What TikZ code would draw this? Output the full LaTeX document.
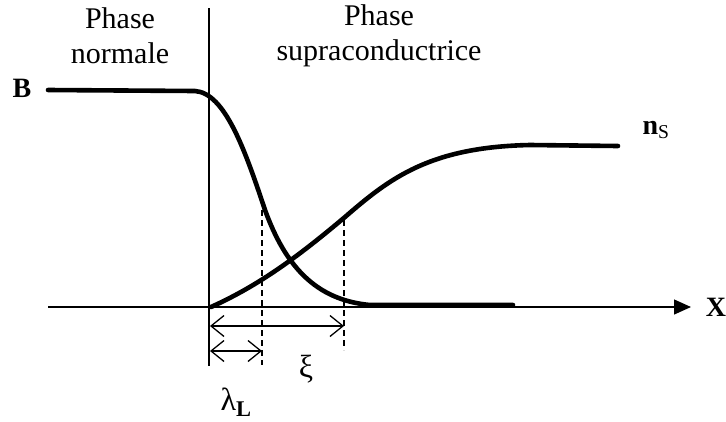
\documentclass[tikz,border=0pt]{standalone}
\usepackage{fontspec}
\setmainfont{Liberation Serif}
\usetikzlibrary{arrows.meta}

\begin{document}
\begin{tikzpicture}[x=1pt, y=-1pt,
      courbe/.style={line width=4.6pt, line join=round, line cap=round},
      axe/.style={line width=1.3pt, -{Triangle[length=17pt,width=15pt]}},
      tiret/.style={line width=1.3pt, dash pattern=on 6pt off 4pt},
      cote/.style={line width=1.3pt, {Straight Barb[length=13pt,width=21pt]}-{Straight Barb[length=13pt,width=21pt]}},
      titre/.style={font=\fontsize{30}{35}\selectfont, align=center, inner sep=0pt},
      lettre/.style={font=\fontsize{28}{30}\selectfont\bfseries, inner sep=0pt},
      grec/.style={font=\fontsize{32}{34}\selectfont, inner sep=0pt}]
    \useasboundingbox (0,0) rectangle (726,421);
    % axes
    \coordinate (xdeb) at (48,307);
    \coordinate (xfin) at (691,307);
    \coordinate (interhaut) at (209,8);
    \coordinate (interbas) at (209,366);
    \draw[axe] (xdeb) -- (xfin);
    \draw[line width=1.1pt] (interhaut) -- (interbas);
    \node[lettre] (lblX) at (716,307) {X};
    \node[lettre] (lblB) at (22,88) {B};
    \node[lettre] (lblns) at (656,130) {n\textsubscript{\mdseries S}};
    \node[titre] (normale) at (120,36) {Phase\\normale};
    \node[titre] (supra) at (379,36) {Phase\\supraconductrice};
    % courbes B et n_S
    \draw[courbe] (48,90) -- (195,91) .. controls (225,93) and (245,150) .. (265,210)
        .. controls (285,265) and (315,300) .. (370,305) -- (513,305);
    \draw[courbe] (211,307) .. controls (260,285) and (300,255) .. (345,217)
        .. controls (390,178) and (430,147) .. (530,145) -- (618,146);
    % longueurs caracteristiques
    \coordinate (lamhaut) at (262,200);
    \coordinate (lambas) at (262,365);
    \coordinate (xihaut) at (344,220);
    \coordinate (xibas) at (344,350);
    \draw[tiret] (lamhaut) -- (lambas);
    \draw[tiret] (xihaut) -- (xibas);
    \coordinate (xig) at (210,326);
    \coordinate (xid) at (344,326);
    \coordinate (lamg) at (210,351);
    \coordinate (lamd) at (262,351);
    \draw[cote] (xig) -- (xid);
    \draw[cote] (lamg) -- (lamd);
    \node[grec] (lblxi) at (306,369) {ξ};
    \node[grec] (lbllam) at (236,402) {λ\textsubscript{\textbf{L}}};
  \end{tikzpicture}
\end{document}
